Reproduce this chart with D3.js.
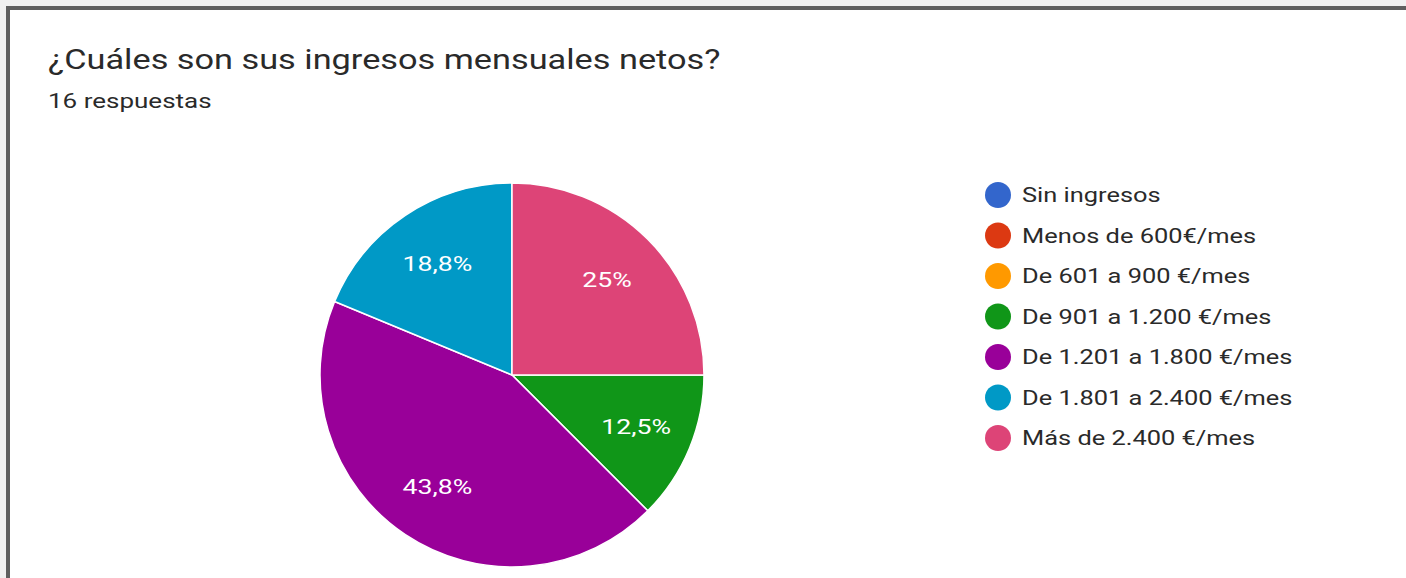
<!DOCTYPE html>
<html>
<head>
<meta charset="utf-8">
<script src="https://cdn.jsdelivr.net/npm/d3@7"></script>
<style>
  html, body { margin: 0; padding: 0; background: #f1f1f1; }
  svg { display: block; }
</style>
</head>
<body>
<div id="chart"></div>
<script>
var categories = [
  "Sin ingresos",
  "Menos de 600€/mes",
  "De 601 a 900 €/mes",
  "De 901 a 1.200 €/mes",
  "De 1.201 a 1.800 €/mes",
  "De 1.801 a 2.400 €/mes",
  "Más de 2.400 €/mes"
];
var counts = [0, 0, 0, 2, 7, 3, 4];
var colors = ["#3366cc", "#dc3912", "#ff9900", "#109618", "#990099", "#0099c6", "#dd4477"];
var title = "¿Cuáles son sus ingresos mensuales netos?";
var subtitle = "16 respuestas";

var width = 1406, height = 578;
var cx = 512, cy = 375, radius = 192;
// the screenshot text is stretched horizontally
var sx = 1.27;

var svg = d3.select("#chart").append("svg")
  .attr("width", width)
  .attr("height", height);

// card with dark frame
svg.append("rect")
  .attr("x", 8).attr("y", 8)
  .attr("width", width + 20).attr("height", height + 20)
  .attr("fill", "#fff")
  .attr("stroke", "#5f5f5f")
  .attr("stroke-width", 4);

svg.append("text")
  .attr("transform", "translate(48,69) scale(" + sx + ",1)")
  .style("font", "27px Roboto, sans-serif")
  .attr("fill", "#2a2a2a")
  .text(title);

svg.append("text")
  .attr("transform", "translate(48,108) scale(" + 1.3 + ",1)")
  .style("font", "20px Roboto, sans-serif")
  .attr("fill", "#2a2a2a")
  .text(subtitle);

var data = categories.map(function (c, i) {
  return {name: c, value: counts[i], color: colors[i]};
});
var total = d3.sum(counts);

var pie = d3.pie()
  .sort(null)
  .value(function (d) { return d.value; })
  .startAngle(Math.PI / 2)
  .endAngle(Math.PI / 2 + 2 * Math.PI);

var arc = d3.arc().innerRadius(0).outerRadius(radius);
var labelArc = d3.arc().innerRadius(radius * 0.7).outerRadius(radius * 0.7);

var g = svg.append("g")
  .attr("transform", "translate(" + cx + "," + cy + ")");

var slices = pie(data).filter(function (d) { return d.data.value > 0; });

g.selectAll("path")
  .data(slices)
  .join("path")
  .attr("d", arc)
  .attr("fill", function (d) { return d.data.color; })
  .attr("stroke", "#fff")
  .attr("stroke-width", 1.5);

var fmt = function (v) {
  var p = Math.round(v / total * 1000) / 10;
  return String(p).replace(".", ",") + "%";
};

g.selectAll("text.lbl")
  .data(slices)
  .join("text")
  .attr("class", "lbl")
  .attr("transform", function (d) {
    var c = labelArc.centroid(d);
    return "translate(" + c[0] + "," + c[1] + ") scale(" + sx + ",1)";
  })
  .attr("text-anchor", "middle")
  .attr("dy", "0.35em")
  .style("font", "21px Roboto, sans-serif")
  .attr("fill", "#fff")
  .text(function (d) { return fmt(d.data.value); });

// legend
var legend = svg.append("g")
  .attr("transform", "translate(998,195)");

var item = legend.selectAll("g")
  .data(data)
  .join("g")
  .attr("transform", function (d, i) { return "translate(0," + i * 40.5 + ")"; });

item.append("circle")
  .attr("r", 13)
  .attr("fill", function (d) { return d.color; });

item.append("text")
  .attr("transform", "translate(24,0) scale(" + sx + ",1)")
  .attr("dy", "0.35em")
  .style("font", "20px Roboto, sans-serif")
  .attr("fill", "#2a2a2a")
  .text(function (d) { return d.name; });
</script>
</body>
</html>
